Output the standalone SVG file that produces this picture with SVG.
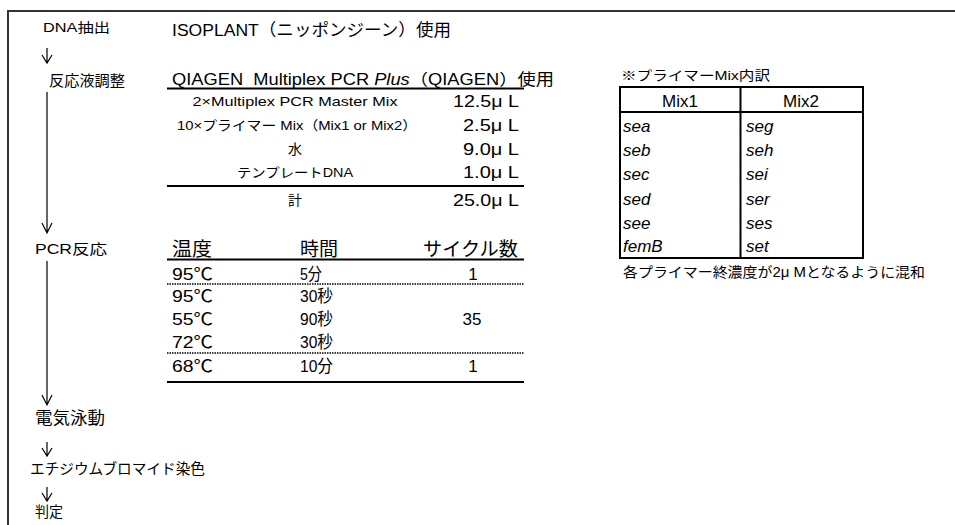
<svg xmlns="http://www.w3.org/2000/svg" width="955" height="525" viewBox="0 0 955 525">
<style>
text { font-family: "Liberation Sans", "Noto Sans CJK JP", sans-serif; fill: #000; }
.it { font-style: italic; }
.mid { text-anchor: middle; }
.end { text-anchor: end; }
.thick { stroke: #000; stroke-width: 2; fill: none; }
.thin { stroke: #000; stroke-width: 1; fill: none; }
.dot { stroke: #000; stroke-width: 1.5; stroke-dasharray: 1.5 1; fill: none; }
.flow { stroke: #000; stroke-width: 1.2; fill: none; }
</style>
<rect x="0" y="0" width="955" height="525" fill="#fff"/>
<rect id="frame" x="8" y="11" width="960" height="530" fill="none" stroke="#333" stroke-width="2"/>

<g id="step-dna"><text x="43" y="32" font-size="13" textLength="67" lengthAdjust="spacingAndGlyphs">DNA抽出</text></g>
<g id="step-prep"><text x="49" y="86" font-size="15" textLength="76" lengthAdjust="spacingAndGlyphs">反応液調整</text></g>
<g id="step-pcr"><text x="35" y="254" font-size="14" textLength="72" lengthAdjust="spacingAndGlyphs">PCR反応</text></g>
<g id="step-electro"><text x="35" y="424" font-size="16.5" textLength="70" lengthAdjust="spacingAndGlyphs">電気泳動</text></g>
<g id="step-stain"><text x="30" y="474" font-size="14.5" textLength="175" lengthAdjust="spacingAndGlyphs">エチジウムブロマイド染色</text></g>
<g id="step-judge"><text x="35" y="517" font-size="14.5" textLength="28" lengthAdjust="spacingAndGlyphs">判定</text></g>

<g id="connectors">
<path class="flow" d="M47 48 V63 M42 55 L47 63 L52 55"/>
<path class="flow" d="M47 92 V233 M42 223 L47 233 L52 223"/>
<path class="flow" d="M47 261 V405 M42 395 L47 405 L52 395"/>
<path class="flow" d="M47 442 V456 M42 448 L47 456 L52 448"/>
<path class="flow" d="M47 487 V501 M42 493 L47 501 L52 493"/>
</g>

<g id="dna-method"><text x="172" y="36" font-size="17" textLength="279" lengthAdjust="spacingAndGlyphs">ISOPLANT（ニッポンジーン）使用</text></g>

<g id="reaction-mix">
<text x="172" y="85" font-size="16" textLength="382" lengthAdjust="spacingAndGlyphs">QIAGEN&#160;&#160;Multiplex PCR <tspan class="it">Plus</tspan>（QIAGEN）使用</text>
<line class="thick" x1="167" y1="88.5" x2="524" y2="88.5"/>
<text class="mid" x="295" y="106" font-size="13" textLength="205" lengthAdjust="spacingAndGlyphs">2×Multiplex PCR Master Mix</text>
<text class="end" x="519" y="107" font-size="17" textLength="66" lengthAdjust="spacingAndGlyphs">12.5μ L</text>
<text class="mid" x="297" y="130" font-size="13" textLength="240" lengthAdjust="spacingAndGlyphs">10×プライマー Mix（Mix1 or Mix2）</text>
<text class="end" x="519" y="131" font-size="17" textLength="56" lengthAdjust="spacingAndGlyphs">2.5μ L</text>
<text class="mid" x="295" y="154" font-size="14">水</text>
<text class="end" x="519" y="155" font-size="17" textLength="56" lengthAdjust="spacingAndGlyphs">9.0μ L</text>
<text class="mid" x="295" y="177" font-size="13" textLength="116" lengthAdjust="spacingAndGlyphs">テンプレートDNA</text>
<text class="end" x="519" y="178" font-size="17" textLength="56" lengthAdjust="spacingAndGlyphs">1.0μ L</text>
<line class="thick" x1="167" y1="186" x2="524" y2="186"/>
<text class="mid" x="295" y="205" font-size="14">計</text>
<text class="end" x="519" y="206" font-size="17" textLength="66" lengthAdjust="spacingAndGlyphs">25.0μ L</text>
</g>

<g id="pcr-program">
<text x="172" y="256" font-size="19" textLength="40" lengthAdjust="spacingAndGlyphs">温度</text>
<text x="300" y="256" font-size="19" textLength="38" lengthAdjust="spacingAndGlyphs">時間</text>
<text x="423" y="256" font-size="19" textLength="95" lengthAdjust="spacingAndGlyphs">サイクル数</text>
<line class="thick" x1="167" y1="259.5" x2="524" y2="259.5"/>
<text x="172" y="280" font-size="17" textLength="41" lengthAdjust="spacingAndGlyphs">95℃</text>
<text x="300" y="280" font-size="17" textLength="22" lengthAdjust="spacingAndGlyphs">5分</text>
<text class="mid" x="473" y="280" font-size="17">1</text>
<line class="dot" x1="167" y1="284" x2="524" y2="284"/>
<text x="172" y="302" font-size="17" textLength="41" lengthAdjust="spacingAndGlyphs">95℃</text>
<text x="300" y="302" font-size="17" textLength="33" lengthAdjust="spacingAndGlyphs">30秒</text>
<text x="172" y="325" font-size="17" textLength="41" lengthAdjust="spacingAndGlyphs">55℃</text>
<text x="300" y="325" font-size="17" textLength="33" lengthAdjust="spacingAndGlyphs">90秒</text>
<text class="mid" x="472" y="325" font-size="17">35</text>
<text x="172" y="348" font-size="17" textLength="41" lengthAdjust="spacingAndGlyphs">72℃</text>
<text x="300" y="348" font-size="17" textLength="33" lengthAdjust="spacingAndGlyphs">30秒</text>
<line class="dot" x1="167" y1="353" x2="524" y2="353"/>
<text x="172" y="372" font-size="17" textLength="41" lengthAdjust="spacingAndGlyphs">68℃</text>
<text x="300" y="372" font-size="17" textLength="33" lengthAdjust="spacingAndGlyphs">10分</text>
<text class="mid" x="473" y="372" font-size="17">1</text>
<line class="thick" x1="167" y1="382" x2="524" y2="382"/>
</g>

<g id="primer-mix">
<text x="621" y="80" font-size="13" textLength="149" lengthAdjust="spacingAndGlyphs">※プライマーMix内訳</text>
<rect class="thick" x="620" y="87" width="243" height="171"/>
<line class="thick" x1="620" y1="112" x2="863" y2="112"/>
<line class="thick" x1="740.5" y1="87" x2="740.5" y2="258"/>
<text class="mid" x="680" y="107" font-size="17">Mix1</text>
<text class="mid" x="801" y="107" font-size="17">Mix2</text>
<g font-size="17">
<text class="it" x="623" y="132">sea</text><text class="it" x="746" y="132">seg</text>
<text class="it" x="623" y="156">seb</text><text class="it" x="746" y="156">seh</text>
<text class="it" x="623" y="180">sec</text><text class="it" x="746" y="180">sei</text>
<text class="it" x="623" y="205">sed</text><text class="it" x="746" y="205">ser</text>
<text class="it" x="623" y="229">see</text><text class="it" x="746" y="229">ses</text>
<text class="it" x="623" y="252">femB</text><text class="it" x="746" y="252">set</text>
</g>
<text x="623" y="277" font-size="14" textLength="302" lengthAdjust="spacingAndGlyphs">各プライマー終濃度が2μ Mとなるように混和</text>
</g>
</svg>
